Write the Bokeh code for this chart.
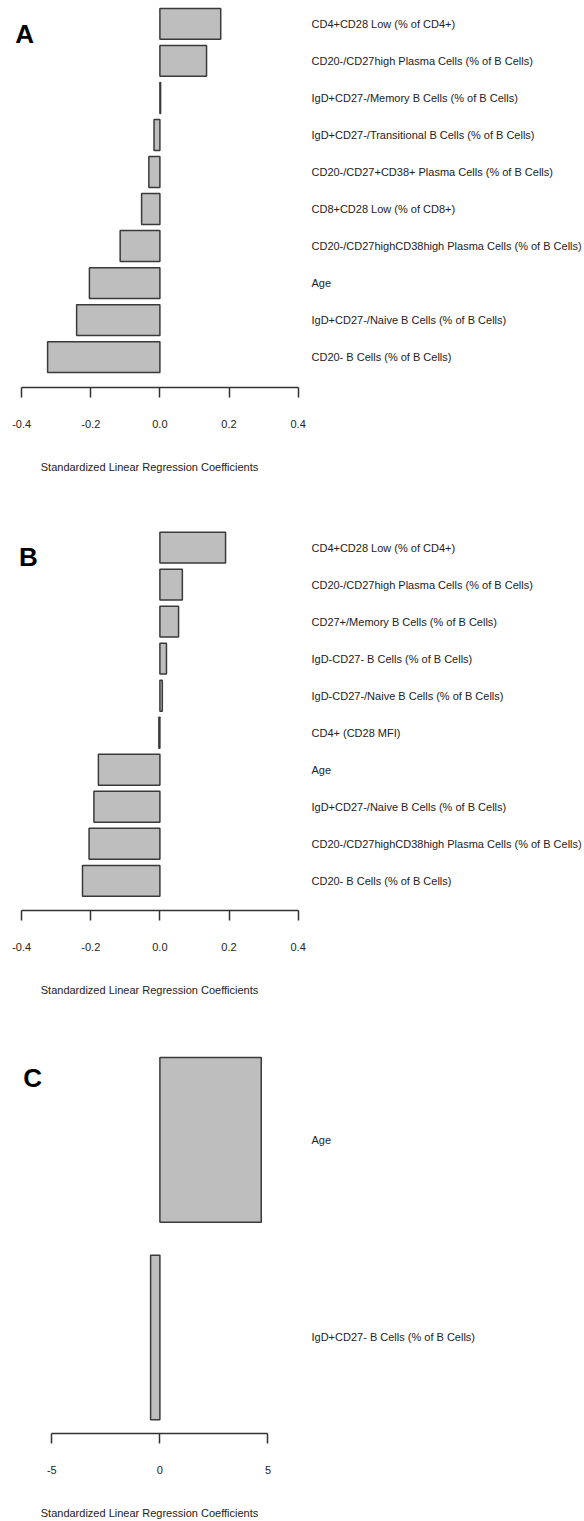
from bokeh.plotting import figure
from bokeh.layouts import column
from bokeh.models import ColumnDataSource, Range1d, FixedTicker, Label
from bokeh.embed import file_html
from bokeh.resources import INLINE

# ---------------- data (top to bottom as drawn) ----------------
a_names = [
    "CD4+CD28 Low (% of CD4+)",
    "CD20-/CD27high Plasma Cells (% of B Cells)",
    "IgD+CD27-/Memory B Cells (% of B Cells)",
    "IgD+CD27-/Transitional B Cells (% of B Cells)",
    "CD20-/CD27+CD38+ Plasma Cells (% of B Cells)",
    "CD8+CD28 Low (% of CD8+)",
    "CD20-/CD27highCD38high Plasma Cells (% of B Cells)",
    "Age",
    "IgD+CD27-/Naive B Cells (% of B Cells)",
    "CD20- B Cells (% of B Cells)",
]
a_values = [0.176, 0.135, 0.002, -0.017, -0.032, -0.053, -0.115, -0.204, -0.241, -0.325]

b_names = [
    "CD4+CD28 Low (% of CD4+)",
    "CD20-/CD27high Plasma Cells (% of B Cells)",
    "CD27+/Memory B Cells (% of B Cells)",
    "IgD-CD27- B Cells (% of B Cells)",
    "IgD-CD27-/Naive B Cells (% of B Cells)",
    "CD4+ (CD28 MFI)",
    "Age",
    "IgD+CD27-/Naive B Cells (% of B Cells)",
    "CD20-/CD27highCD38high Plasma Cells (% of B Cells)",
    "CD20- B Cells (% of B Cells)",
]
b_values = [0.190, 0.065, 0.054, 0.019, 0.007, -0.003, -0.178, -0.191, -0.205, -0.224]

c_names = ["Age", "IgD+CD27- B Cells (% of B Cells)"]
c_values = [4.69, -0.43]

ab_ticks = [-0.4, -0.2, 0.0, 0.2, 0.4]
ab_tick_labels = ["-0.4", "-0.2", "0.0", "0.2", "0.4"]
c_ticks = [-5, 0, 5]
c_tick_labels = ["-5", "0", "5"]

x_title = "Standardized Linear Regression Coefficients"
FONT = "Liberation Sans"
TXT = "#222222"
LINE = "#333333"


def panel(names, values, letter, xr, bounds, ticks, tick_labels, height,
          border_bottom, yr, letter_xy):
    n = len(names)
    pos = [n - 1 - i for i in range(n)]
    src = ColumnDataSource(dict(y=pos, v=values, name=names))
    p = figure(width=584, height=height, output_backend="svg", toolbar_location=None,
               x_range=Range1d(*xr), y_range=Range1d(*yr),
               y_axis_location="right", min_border_left=0,
               min_border_right=283, min_border_top=0,
               min_border_bottom=border_bottom)
    p.hbar(y="y", left=0, right="v", height=1 / 1.2, source=src,
           fill_color="#bebebe", line_color="#3a3a3a", line_width=1.5)
    p.outline_line_color = None
    p.grid.visible = False
    p.background_fill_color = "white"

    xa = p.xaxis[0]
    xa.bounds = bounds
    xa.ticker = FixedTicker(ticks=ticks)
    xa.major_label_overrides = {t: s for t, s in zip(ticks, tick_labels)}
    xa.axis_line_color = LINE
    xa.axis_line_width = 1.5
    xa.major_tick_line_color = LINE
    xa.major_tick_line_width = 1.5
    xa.major_tick_out = 10
    xa.major_tick_in = 0
    xa.minor_tick_line_color = None
    xa.major_label_text_font = FONT
    xa.major_label_text_font_size = "11px"
    xa.major_label_text_color = TXT
    xa.major_label_standoff = 22
    xa.axis_label = x_title
    xa.axis_label_text_font = FONT
    xa.axis_label_text_font_size = "11px"
    xa.axis_label_text_font_style = "normal"
    xa.axis_label_text_color = TXT
    xa.axis_label_standoff = 30

    ya = p.yaxis[0]
    ya.ticker = FixedTicker(ticks=pos)
    ya.major_label_overrides = {k: s for k, s in zip(pos, names)}
    ya.axis_line_color = None
    ya.major_tick_line_color = None
    ya.minor_tick_line_color = None
    ya.major_tick_out = 0
    ya.major_tick_in = 0
    ya.major_label_standoff = 13
    ya.major_label_text_font = FONT
    ya.major_label_text_font_size = "11px"
    ya.major_label_text_color = TXT

    p.add_layout(Label(x=letter_xy[0], y=letter_xy[1], text=letter, text_font=FONT,
                       text_font_size="26px", text_font_style="bold",
                       text_color="black", text_align="left",
                       text_baseline="alphabetic"))
    return p


pA = panel(a_names, a_values, "A", (-0.4613, 0.4011), (-0.4, 0.4), ab_ticks,
           ab_tick_labels, height=500, border_bottom=113,
           yr=(9.6328 - 387 / 37.02, 9.6328), letter_xy=(-0.4186, 8.741))
pB = panel(b_names, b_values, "B", (-0.4613, 0.4011), (-0.4, 0.4), ab_ticks,
           ab_tick_labels, height=520, border_bottom=110,
           yr=(10.273 - 410 / 37.02, 10.273), letter_xy=(-0.4081, 8.760))
pC = panel(c_names, c_values, "C", (-7.375, 6.413), (-5, 5), c_ticks,
           c_tick_labels, height=501, border_bottom=86,
           yr=(1.6046 - 415 / 198.5, 1.6046), letter_xy=(-6.32, 1.315))

layout = column(pA, pB, pC)
open("out.html", "w").write(file_html(layout, INLINE))
